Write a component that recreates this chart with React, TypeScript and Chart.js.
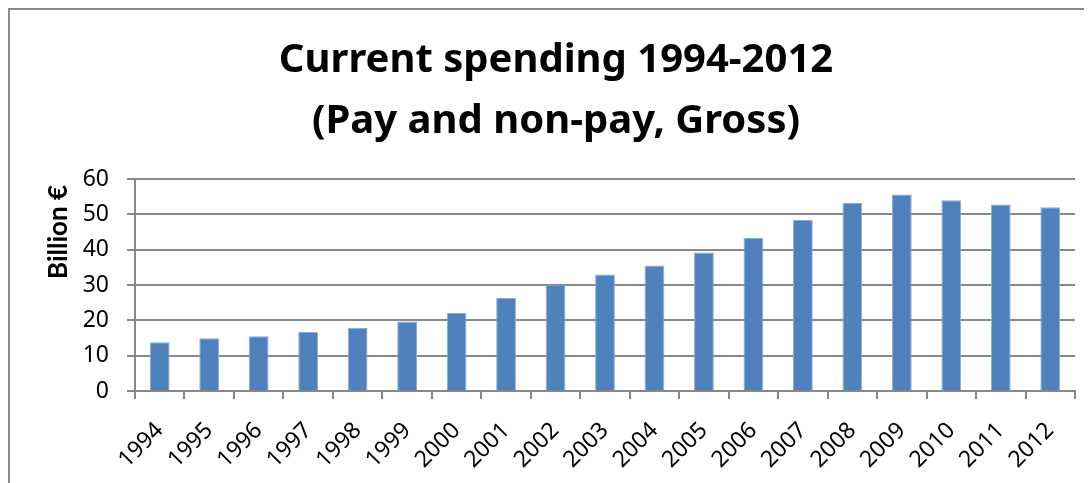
import React, { useEffect, useRef } from "react";
import { Chart, registerables } from "chart.js";

Chart.register(...registerables);

const years = ["1994", "1995", "1996", "1997", "1998", "1999", "2000", "2001", "2002", "2003", "2004", "2005", "2006", "2007", "2008", "2009", "2010", "2011", "2012"];
const spending = [13.8, 14.9, 15.5, 16.7, 17.9, 19.7, 22.1, 26.3, 30.1, 33.0, 35.5, 39.2, 43.3, 48.4, 53.2, 55.6, 54.0, 52.8, 52.0];
const titleLines = ["Current spending 1994-2012", "(Pay and non-pay, Gross)"];
const yAxisTitle = "Billion €";
const yMin = 0;
const yMax = 60;
const yStep = 10;

const FONT = "'Noto Sans', 'Open Sans', sans-serif";
const YFONT = "Lato, 'Noto Sans', sans-serif";
const GRID = "#888888";

const yTitlePlugin = {
  id: "yTitlePlugin",
  afterDraw(chart: any) {
    const { ctx, chartArea } = chart;
    ctx.save();
    ctx.font = `bold 26px ${YFONT}`;
    ctx.fillStyle = "#000";
    ctx.textAlign = "center";
    ctx.textBaseline = "middle";
    ctx.translate(chartArea.left - 76, chartArea.top + 53);
    ctx.rotate(-Math.PI / 2);
    ctx.fillText(yAxisTitle, 0, 0);
    ctx.restore();
  },
};

export default function App() {
  const ref = useRef<HTMLCanvasElement | null>(null);

  useEffect(() => {
    if (!ref.current) return;
    const chart = new Chart(ref.current, {
      type: "bar",
      data: {
        labels: years,
        datasets: [
          {
            data: spending,
            backgroundColor: "#4F81BD",
            borderColor: "#8DAAD6",
            borderWidth: 1,
            barPercentage: 0.4,
            categoryPercentage: 1,
          },
        ],
      },
      options: {
        responsive: false,
        animation: false,
        devicePixelRatio: 1,
        layout: { padding: { left: 27, right: 31, top: 0, bottom: 0 } },
        plugins: {
          legend: { display: false },
          tooltip: { enabled: false },
          title: {
            display: true,
            text: titleLines,
            color: "#000",
            font: { family: FONT, size: 40, weight: "bold", lineHeight: 1.525 },
            padding: { top: 20, bottom: 27 },
          },
        },
        scales: {
          x: {
            grid: {
              offset: true,
              drawOnChartArea: false,
              drawTicks: true,
              tickLength: 8,
              color: GRID,
              lineWidth: 2,
            },
            border: { color: GRID, width: 2 },
            ticks: {
              color: "#000",
              font: { family: FONT, size: 23 },
              maxRotation: 45,
              minRotation: 45,
              padding: 18,
              autoSkip: false,
            },
            afterFit(scale: any) {
              scale.height = 89;
            },
          },
          y: {
            min: yMin,
            max: yMax,
            grid: {
              color: GRID,
              lineWidth: 2,
              tickLength: 8,
            },
            border: { color: GRID, width: 2 },
            ticks: {
              stepSize: yStep,
              color: "#000",
              font: { family: FONT, size: 23 },
              padding: 18,
            },
            afterFit(scale: any) {
              scale.width = 98;
            },
          },
        },
      },
      plugins: [yTitlePlugin],
    });
    return () => chart.destroy();
  }, []);

  return (
    <div
      style={{
        width: 1084,
        height: 475,
        overflow: "hidden",
        borderLeft: "2px solid #8a8a8a",
        borderTop: "2px solid #8a8a8a",
        boxSizing: "border-box",
        background: "#fff",
      }}
    >
      <canvas ref={ref} width={1096} height={470} style={{ display: "block" }} />
    </div>
  );
}
